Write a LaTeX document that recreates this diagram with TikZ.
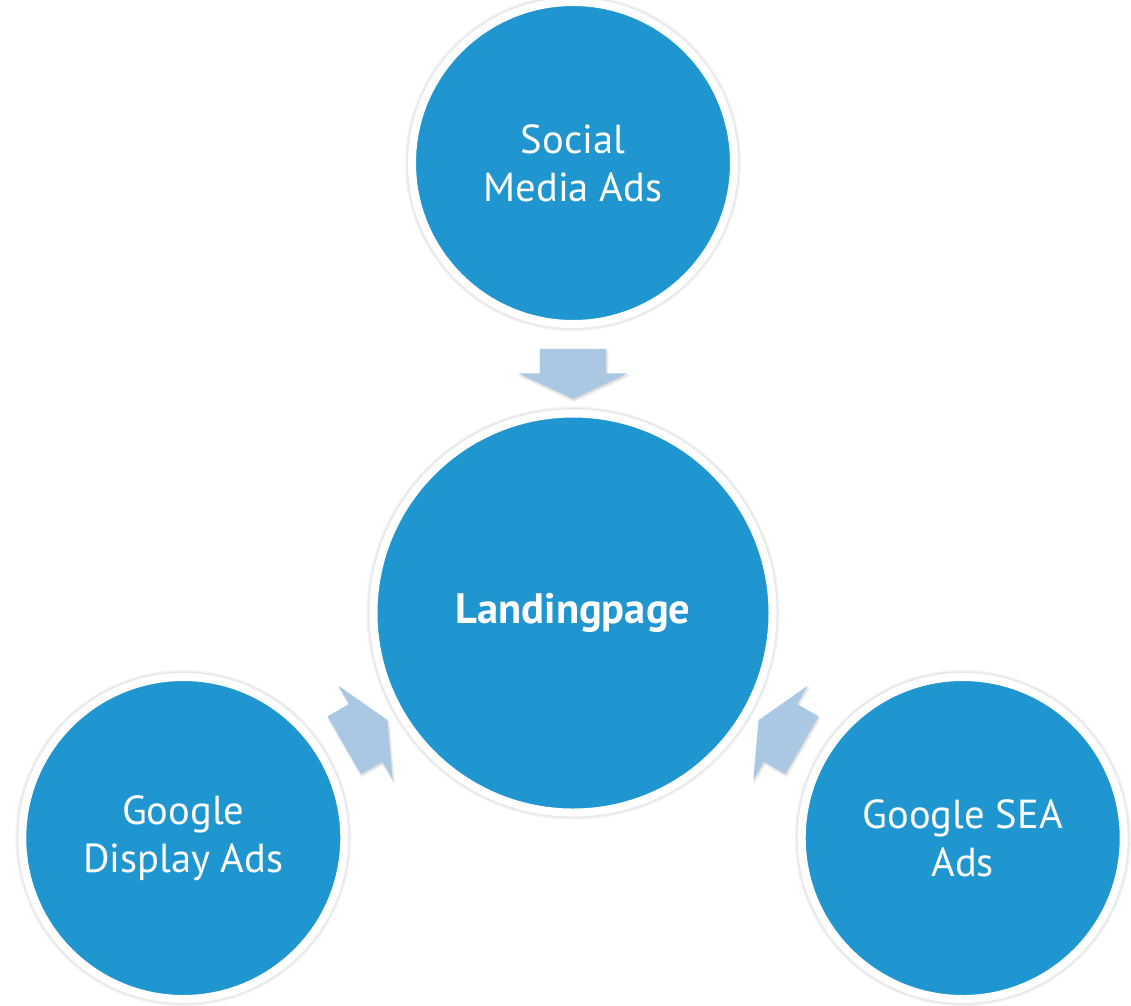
\documentclass[tikz,border=0pt]{standalone}
\usepackage{fontspec}
\setmainfont{PT Sans}
\usetikzlibrary{calc,shapes.arrows,shadows.blur}

\definecolor{adblue}{RGB}{32,150,208}
\definecolor{arrowblue}{RGB}{170,200,228}

\tikzset{
  bubble/.style={circle, fill=adblue, draw=white, line width=8pt,
    minimum size=322pt, inner sep=0pt, align=center, text=white,
    font=\fontsize{40.5}{48}\selectfont,
    preaction={draw=black!5, line width=14pt},
    preaction={draw=black!9, line width=11pt}},
  hub/.style={bubble, minimum size=399pt, font=\fontsize{42.5}{48}\selectfont\bfseries},
  feed/.style={single arrow, fill=arrowblue, draw=none, inner sep=0pt,
    minimum height=50pt, single arrow head extend=21pt,
    single arrow tip angle=130,
    blur shadow={shadow xshift=1pt, shadow yshift=-2pt, shadow opacity=18, shadow blur steps=4}}
}

\begin{document}
\begin{tikzpicture}[x=1pt,y=1pt]
  \useasboundingbox (0,0) rectangle (1131,-1005);

  \path (573,-613) coordinate (P0);
  \path (P0) ++(90:450)  coordinate (P1);
  \path (P0) ++(210:450) coordinate (P2);
  \path (P0) ++(330:450) coordinate (P3);

  \node[bubble] (social)  at (P1) {Social\\Media Ads};
  \node[bubble] (display) at (P2) {Google\\Display Ads};
  \node[bubble] (sea)     at (P3) {Google SEA\\Ads};
  \node[hub]    (landing) at (P0) {Landingpage};

  % block arrows, each pointing at the landing page
  \node[feed, rotate=-90] (a1) at ($(landing.center)!247pt!(social.center)$)
    {\vrule width 0pt height 33pt depth 33pt};
  \node[feed, rotate=30]  (a2) at ($(landing.center)!247pt!(display.center)$)
    {\vrule width 0pt height 33pt depth 33pt};
  \node[feed, rotate=150] (a3) at ($(landing.center)!247pt!(sea.center)$)
    {\vrule width 0pt height 33pt depth 33pt};

\end{tikzpicture}
\end{document}
